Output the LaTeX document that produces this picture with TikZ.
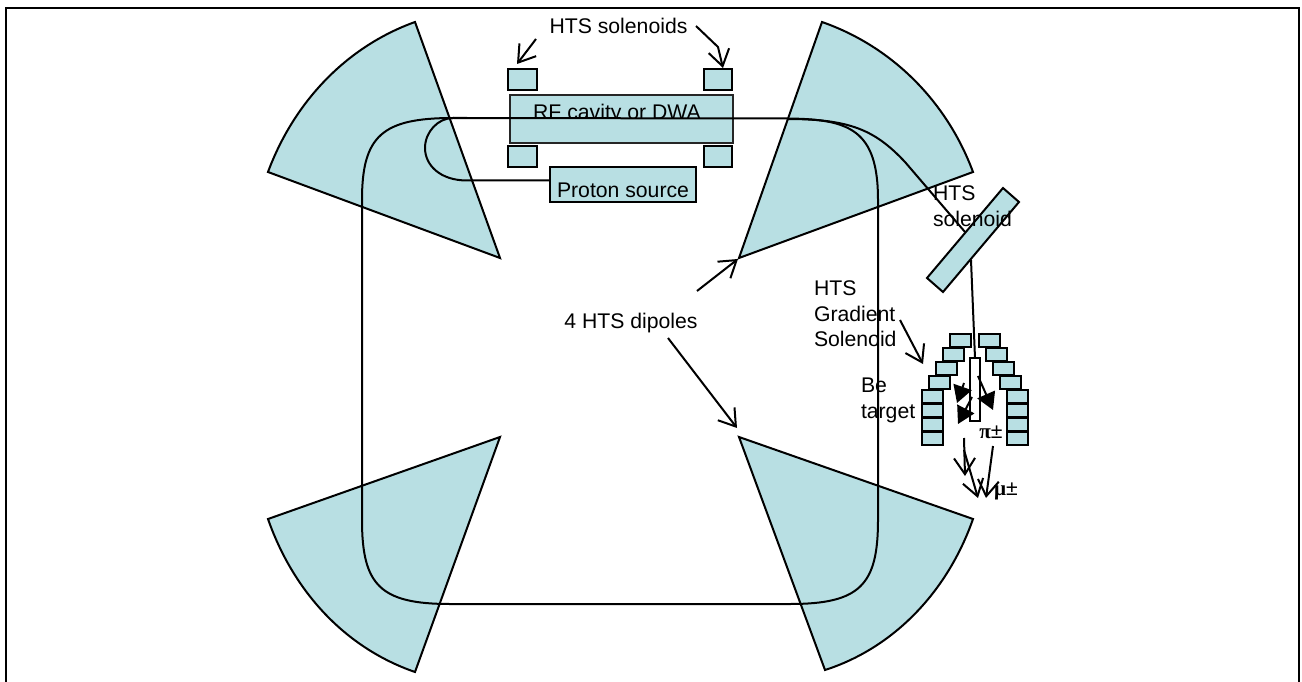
\documentclass[tikz,border=0pt]{standalone}
\usepackage{fontspec}
\setmainfont{Liberation Sans}
\newfontfamily\symfont{Liberation Serif}
\usetikzlibrary{arrows.meta}
\definecolor{hts}{HTML}{B8DFE3}
\newcommand{\bx}[6][solbox]{\pgfmathsetmacro\cxx{(#3+#5)/2}\pgfmathsetmacro\cyy{(#4+#6)/2}\pgfmathsetmacro\wxx{#5-#3}\pgfmathsetmacro\hxx{#6-#4}\node[#1,minimum width=\wxx pt,minimum height=\hxx pt] (#2) at (\cxx,\cyy) {};}
\tikzset{
  solbox/.style={draw=black,line width=2pt,fill=hts,inner sep=0pt,outer sep=0pt},
  thinbox/.style={draw=black!85,line width=2pt,fill=hts,inner sep=0pt,outer sep=0pt},
  wedge/.style={draw=black,line width=2pt,fill=hts,line join=miter},
  beam/.style={draw=black,line width=2pt},
  txt/.style={font=\fontsize{21.2}{25.5}\selectfont,inner sep=0pt,outer sep=0pt,text=black},
  openarrow/.style={draw=black,line width=2pt,-{Straight Barb[length=16pt,width=21pt,line width=2pt]}},
  solidarrow/.style={draw=black,line width=2pt,-{Triangle[length=17pt,width=19pt,fill=black]}}
}
\begin{document}
\begin{tikzpicture}[x=1pt,y=-1pt]
\useasboundingbox (0,0) rectangle (1302,682);
\draw[line width=2pt] (6,682) -- (6,8) -- (1299,8) -- (1299,682);
% dipoles
\draw[wedge] (500,258) -- (268,172) .. controls (293.4,103.4) and (345.2,47.1) .. (415,22) -- cycle;
\draw[wedge] (739,258) -- (973,172) .. controls (947.6,103.4) and (893.8,47.1) .. (822,22) -- cycle;
\draw[wedge] (500,437) -- (268,519) .. controls (293.4,591.6) and (345.2,647.9) .. (415,672) -- cycle;
\draw[wedge] (739,437) -- (973,519) .. controls (947.6,591.6) and (893.8,647.9) .. (825,670) -- cycle;
% solenoids
\bx{s1}{508}{69}{537}{90}
\bx{s2}{704}{69}{732}{90}
\bx{s3}{508}{146}{537}{167}
\bx{s4}{704}{146}{732}{167}
\bx[thinbox]{rf}{510}{95}{733}{143}
\node[txt,anchor=base] (rftext) at (617,120) {RF cavity or DWA};
\fill[hts] (511,118.5) rectangle (732,142);
\bx{ps}{550}{167}{696}{202}
\node[txt,anchor=base] (pstext) at (623,197) {Proton source};
% tilted solenoid
\draw[solbox] (1003,188) coordinate (t1) -- (1019,202) -- (943,292) -- (927,278) -- cycle;
% track
\draw[beam] (362,200) .. controls (362,136) and (382,118) .. (453,118) -- (787,118.5)
  .. controls (850,119) and (878,130) .. (878,200) -- (878,520)
  .. controls (878,585) and (860,604) .. (790,604) -- (450,604)
  .. controls (380,604) and (362,585) .. (362,520) -- cycle;
\coordinate (hs) at (965,232);
\draw[beam] (787,119) .. controls (850,119) and (875,130) .. (905,162) -- (hs);
% injection
\coordinate (inj) at (467,118);
\draw[beam] (ps.west |- 0,180.5) -- (467,180.5) .. controls (440,180.5) and (425,165) .. (425,148) .. controls (425,132) and (438,118) .. (453,118) -- (inj);
% gradient solenoid
\foreach \n/\a/\y in {a/950/334,b/943/348,c/936/362,d/929/376}{
  \pgfmathsetmacro\aa{\a+21}\pgfmathsetmacro\yy{\y+13}
  \bx{l\n}{\a}{\y}{\aa}{\yy}
  \pgfmathsetmacro\ra{1950-\aa}\pgfmathsetmacro\rb{\ra+21}
  \bx{r\n}{\ra}{\y}{\rb}{\yy}
}
\foreach \n/\y in {e/390,f/404,g/418,h/432}{
  \pgfmathsetmacro\yy{\y+13}
  \bx{l\n}{922}{\y}{943}{\yy}
  \bx{r\n}{1007}{\y}{1028}{\yy}
}
\coordinate (ht) at (971,260);
\bx[solbox,fill=white]{tg}{970}{358}{980}{421}
\draw[beam] (ht) -- (tg.north);
% arrows top
\coordinate (a1) at (536,39); \coordinate (a1t) at (517,64);
\draw[openarrow] (a1) -- (a1t);
\coordinate (a2) at (696,26); \coordinate (a2b) at (718,47);
\draw[openarrow] (a2) -- (a2b) -- (723,68);
\coordinate (d0a) at (697,291); \coordinate (d0t) at (738,259);
\draw[openarrow] (d0a) -- (d0t);
\coordinate (d1a) at (668,338); \coordinate (d1t) at (737,428);
\draw[openarrow] (d1a) -- (d1t);
\coordinate (g0) at (900,320); \coordinate (g1) at (923,364);
\draw[openarrow] (g0) -- (g1);
% solid arrows in target
\coordinate (p1a) at (964,383); \coordinate (p1t) at (957,403);
\draw[solidarrow] (p1a) -- (p1t);
\coordinate (p2a) at (972,397); \coordinate (p2t) at (958,424);
\draw[solidarrow] (p2a) -- (p2t);
\coordinate (p3a) at (978,376); \coordinate (p3t) at (993,410);
\draw[solidarrow] (p3a) -- (p3t);
% lower arrows
\coordinate (m1a) at (964,438); \coordinate (m1t) at (965,476);
\draw[openarrow] (m1a) -- (m1t);
\coordinate (m2a) at (964,450); \coordinate (m2t) at (978,498);
\draw[openarrow] (m2a) -- (m2t);
\coordinate (m3a) at (993,446); \coordinate (m3t) at (986,498);
\draw[openarrow] (m3a) -- (m3t);
% labels
\node[txt,anchor=base] (l1) at (618.5,34) {HTS solenoids};
\node[txt,anchor=base] (l2) at (631,328) {4 HTS dipoles};
\node[txt,anchor=north west,align=left] (l3) at (933,186) {HTS\\solenoid};
\node[txt,anchor=north west,align=left] (l4) at (814,281) {HTS\\Gradient\\Solenoid};
\node[txt,anchor=north west,align=left] (l5) at (861,378) {Be\\target};
\node[txt,anchor=base] (l6) at (991,438) {{\symfont\bfseries π}±};
\node[txt,anchor=base] (l7) at (1006,495) {{\symfont\bfseries μ}±};
\end{tikzpicture}
\end{document}
